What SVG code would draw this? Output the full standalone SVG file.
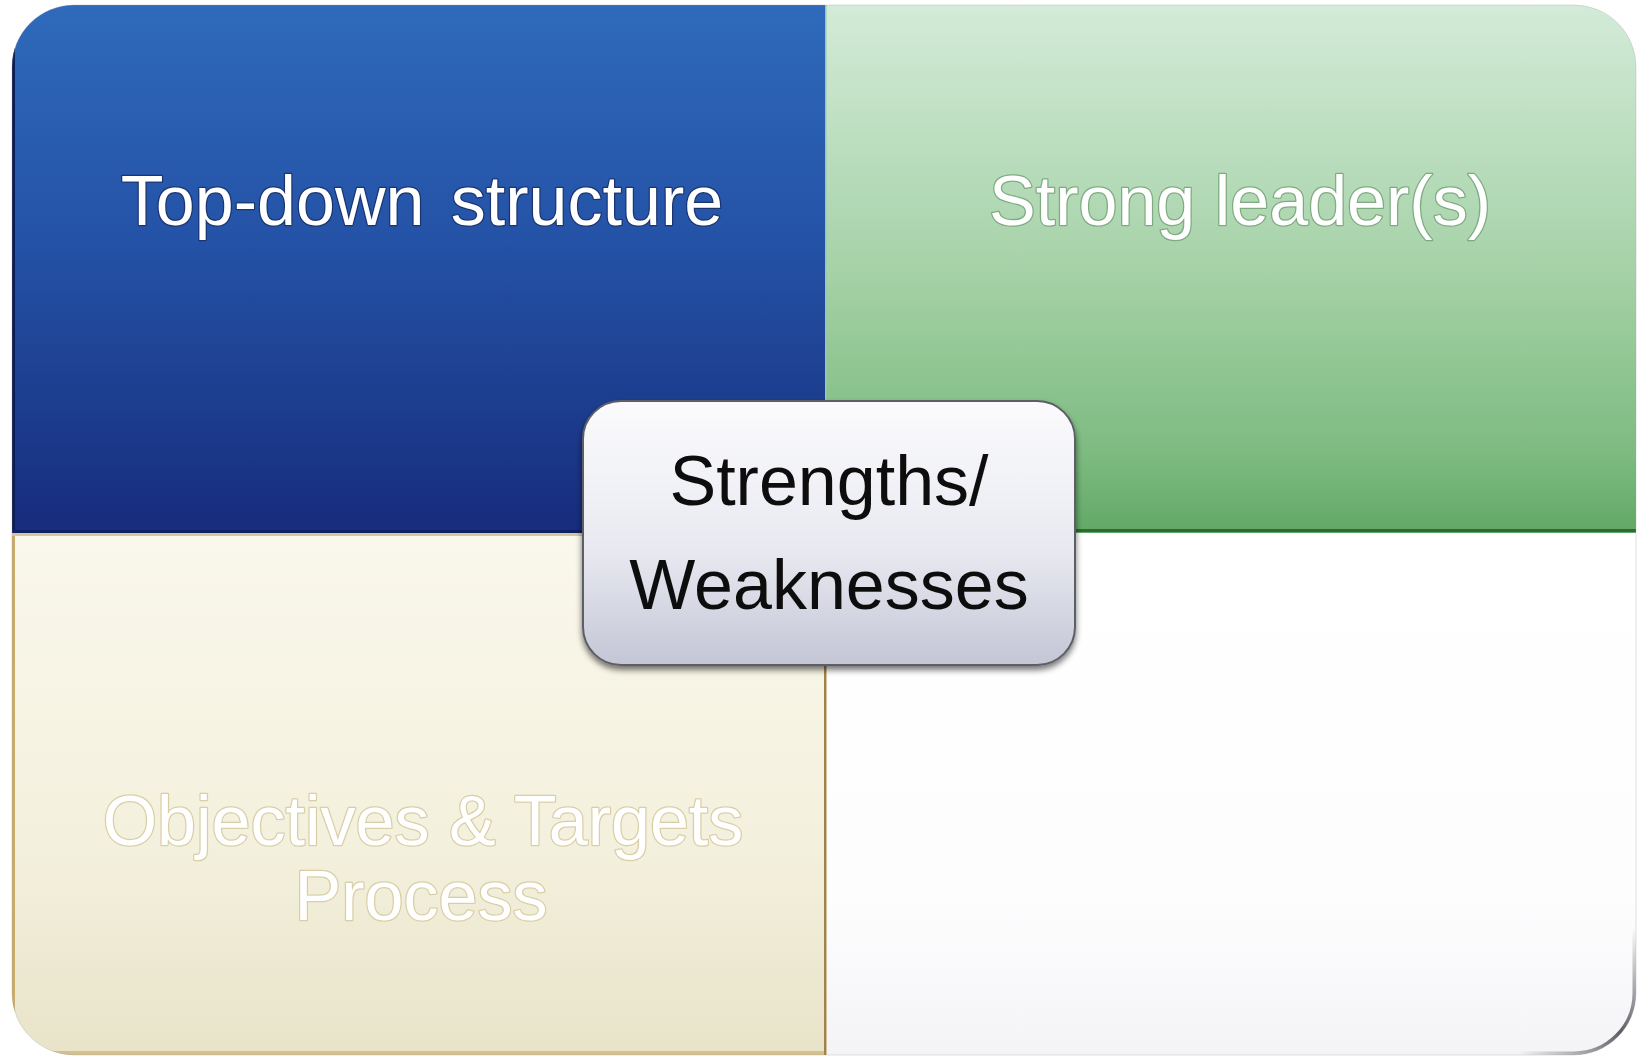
<svg xmlns="http://www.w3.org/2000/svg" width="1640" height="1058" viewBox="0 0 1640 1058">
  <defs>
    <style>
      .lbl { font-family: "Liberation Sans", Arial, sans-serif; font-size: 70px; text-anchor: middle; }
      .white { fill: #ffffff; paint-order: stroke; stroke-width: 2.5px; stroke-linejoin: round; }
      .dark { fill: #111111; }
    </style>
    <clipPath id="outer">
      <rect x="12" y="5" width="1624" height="1050" rx="62" ry="62"/>
    </clipPath>
    <linearGradient id="gBlue" x1="0" y1="0" x2="0" y2="1">
      <stop offset="0" stop-color="#2f6abb"/>
      <stop offset="0.45" stop-color="#2452a6"/>
      <stop offset="1" stop-color="#172c7c"/>
    </linearGradient>
    <linearGradient id="gGreen" x1="0" y1="0" x2="0" y2="1">
      <stop offset="0" stop-color="#d3ebd8"/>
      <stop offset="0.5" stop-color="#a6d2a8"/>
      <stop offset="0.85" stop-color="#7dbb80"/>
      <stop offset="1" stop-color="#62a866"/>
    </linearGradient>
    <linearGradient id="gCream" x1="0" y1="0" x2="0" y2="1">
      <stop offset="0" stop-color="#faf8ec"/>
      <stop offset="0.6" stop-color="#f3f0dd"/>
      <stop offset="1" stop-color="#e8e3c8"/>
    </linearGradient>
    <linearGradient id="gWhite" x1="0" y1="0" x2="0" y2="1">
      <stop offset="0" stop-color="#ffffff"/>
      <stop offset="0.7" stop-color="#fdfdfe"/>
      <stop offset="1" stop-color="#f4f4f7"/>
    </linearGradient>
    <linearGradient id="gBox" x1="0" y1="0" x2="0" y2="1">
      <stop offset="0" stop-color="#fbfbfd"/>
      <stop offset="0.55" stop-color="#e9eaf1"/>
      <stop offset="1" stop-color="#c4c6d6"/>
    </linearGradient>
    <linearGradient id="gCorner" gradientUnits="userSpaceOnUse" x1="1636" y1="930" x2="1520" y2="1055">
      <stop offset="0" stop-color="#55555c" stop-opacity="0"/>
      <stop offset="0.5" stop-color="#55555c" stop-opacity="0.95"/>
      <stop offset="1" stop-color="#55555c" stop-opacity="0"/>
    </linearGradient>
    <filter id="shadow" x="-10%" y="-10%" width="120%" height="130%">
      <feGaussianBlur in="SourceAlpha" stdDeviation="3"/>
      <feOffset dx="0" dy="4"/>
      <feComponentTransfer><feFuncA type="linear" slope="0.55"/></feComponentTransfer>
      <feMerge><feMergeNode/><feMergeNode in="SourceGraphic"/></feMerge>
    </filter>
  </defs>

  <rect x="0" y="0" width="1640" height="1058" fill="#ffffff"/>

  <g clip-path="url(#outer)">
    <g id="q-top-left">
      <rect x="12" y="5" width="814" height="528" fill="url(#gBlue)"/>
      <rect x="12" y="5" width="3" height="528" fill="#0d1c55"/>
      <rect x="12" y="530" width="814" height="3" fill="#0f2064"/>
      <text class="lbl white" x="422" y="225" stroke="#1b3570">Top-down <tspan dx="7">structure</tspan></text>
    </g>
    <g id="q-top-right">
      <rect x="826" y="5" width="810" height="528" fill="url(#gGreen)"/>
      <rect x="826" y="529" width="810" height="3" fill="#2e6a32"/>
      <rect x="825" y="5" width="1.5" height="528" fill="#9fc7a3"/>
      <text class="lbl white" x="1240" y="225" stroke="#7eab80">Strong leader(s)</text>
    </g>
    <g id="q-bottom-left">
      <rect x="12" y="533" width="814" height="525" fill="url(#gCream)"/>
      <rect x="12" y="533" width="3" height="525" fill="#c9ac6c"/>
      <rect x="12" y="533" width="814" height="3" fill="#d8c79e"/>
      <rect x="12" y="1051" width="814" height="4" fill="#d4c08c"/>
      <rect x="824" y="533" width="2.5" height="525" fill="#a08446"/>
      <text class="lbl white" x="423" y="845" stroke="#d9cfa6">Objectives &amp; Targets</text>
      <text class="lbl white" x="421" y="920" stroke="#d9cfa6">Process</text>
    </g>
    <g id="q-bottom-right">
      <rect x="827" y="533" width="809" height="525" fill="url(#gWhite)"/>
    </g>
    <path d="M1634.5 930 L1634.5 993 A60.5 60.5 0 0 1 1574 1053.5 L1520 1053.5" fill="none" stroke="url(#gCorner)" stroke-width="4"/>
  </g>
  <rect x="12" y="5" width="1624" height="1050" rx="62" ry="62" fill="none" stroke="#9a9aa2" stroke-width="1" opacity="0.3"/>

  <g id="connectors"/>

  <g id="center-node" filter="url(#shadow)">
    <rect x="583" y="401" width="492" height="264" rx="38" ry="38" fill="url(#gBox)" stroke="#5c5e66" stroke-width="2"/>
    <text class="lbl dark" x="829" y="505">Strengths/</text>
    <text class="lbl dark" x="829" y="609">Weaknesses</text>
  </g>
</svg>
